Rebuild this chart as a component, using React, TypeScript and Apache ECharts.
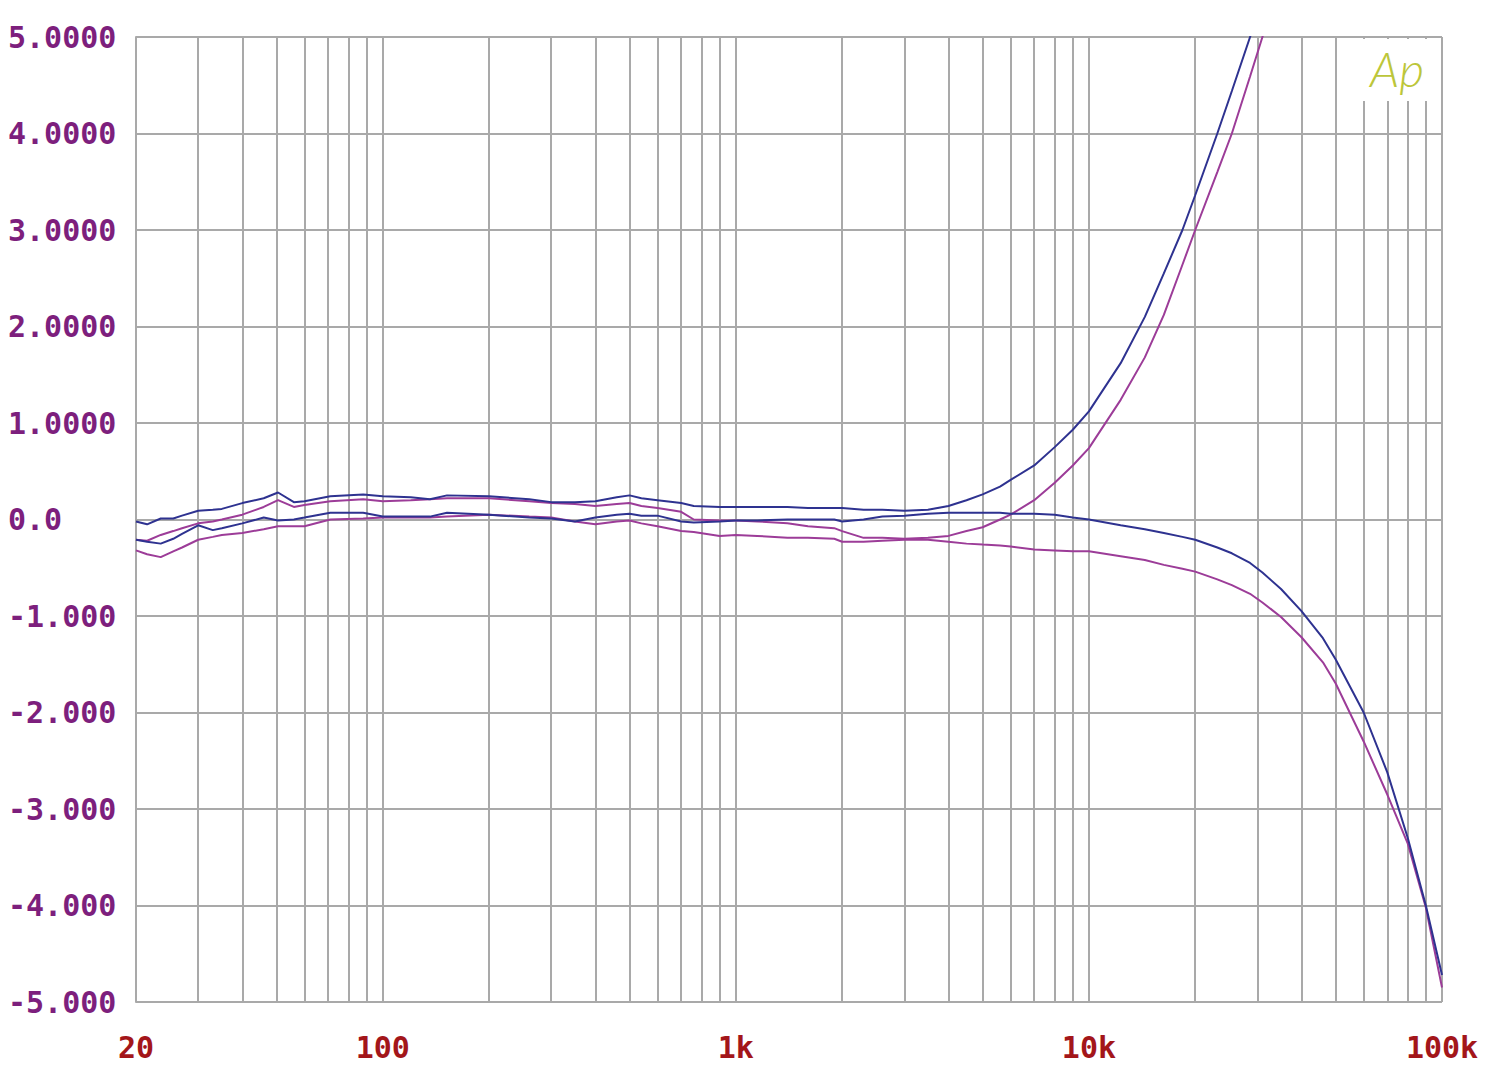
import React, { useEffect, useRef } from "react";
import * as echarts from "echarts";

// Frequencies (Hz) at which the curves were read
const freqs = [20, 21.5, 23.5, 25.5, 27, 30, 33, 35, 40, 46, 50.5, 56, 60, 71, 88, 100, 120, 136, 152, 200, 260, 300, 350, 400, 460, 500, 540, 600, 700, 760, 900, 1000, 1150, 1400, 1600, 1900, 2000, 2300, 2600, 3000, 3500, 4000, 4500, 5000, 5600, 6000, 7000, 8000, 9000, 10000, 12300, 14400, 16300, 18400, 20000, 23100, 25400, 28600, 31000, 35000, 40000, 46000, 50000, 60000, 70000, 80000, 90000, 100000];

// Blue channel, rising (upper) curve
const blueRise = [-0.02, -0.05, 0.01, 0.01, 0.04, 0.09, 0.10, 0.11, 0.17, 0.22, 0.28, 0.18, 0.19, 0.24, 0.26, 0.24, 0.23, 0.21, 0.25, 0.24, 0.21, 0.18, 0.18, 0.19, 0.23, 0.25, 0.22, 0.20, 0.17, 0.14, 0.13, 0.13, 0.13, 0.13, 0.12, 0.12, 0.12, 0.10, 0.10, 0.09, 0.10, 0.14, 0.20, 0.26, 0.34, 0.41, 0.56, 0.75, 0.93, 1.12, 1.62, 2.1, 2.55, 3.0, 3.36, 4.0, 4.44, 5.0, 5.37, null, null, null, null, null, null, null, null, null];

// Purple channel, rising (upper) curve
const purpleRise = [-0.21, -0.22, -0.16, -0.12, -0.09, -0.04, -0.02, 0.0, 0.05, 0.13, 0.20, 0.13, 0.15, 0.19, 0.21, 0.19, 0.20, 0.21, 0.22, 0.22, 0.19, 0.17, 0.16, 0.14, 0.16, 0.17, 0.14, 0.12, 0.08, 0.0, -0.01, -0.01, -0.02, -0.04, -0.07, -0.09, -0.12, -0.19, -0.19, -0.20, -0.19, -0.17, -0.12, -0.08, 0.0, 0.05, 0.2, 0.38, 0.56, 0.74, 1.24, 1.68, 2.12, 2.64, 3.0, 3.6, 4.0, 4.59, 5.0, 5.6, null, null, null, null, null, null, null, null];

// Blue channel, falling (lower) curve
const blueFall = [-0.21, -0.23, -0.25, -0.20, -0.15, -0.06, -0.11, -0.09, -0.04, 0.02, -0.01, 0.0, 0.02, 0.07, 0.07, 0.03, 0.03, 0.03, 0.07, 0.05, 0.02, 0.01, -0.02, 0.02, 0.05, 0.06, 0.04, 0.04, -0.02, -0.03, -0.02, -0.01, -0.01, 0.0, 0.0, 0.0, -0.02, 0.0, 0.03, 0.04, 0.06, 0.07, 0.07, 0.07, 0.07, 0.06, 0.06, 0.05, 0.02, 0.0, -0.06, -0.10, -0.14, -0.18, -0.21, -0.29, -0.35, -0.45, -0.55, -0.72, -0.95, -1.23, -1.45, -2.0, -2.62, -3.3, -4.0, -4.72];

// Purple channel, falling (lower) curve
const purpleFall = [-0.32, -0.36, -0.39, -0.33, -0.29, -0.21, -0.18, -0.16, -0.14, -0.10, -0.07, -0.07, -0.07, 0.0, 0.01, 0.02, 0.02, 0.02, 0.03, 0.05, 0.03, 0.02, -0.02, -0.05, -0.02, -0.01, -0.04, -0.07, -0.12, -0.13, -0.17, -0.16, -0.17, -0.19, -0.19, -0.20, -0.23, -0.23, -0.22, -0.21, -0.21, -0.23, -0.25, -0.26, -0.27, -0.28, -0.31, -0.32, -0.33, -0.33, -0.38, -0.42, -0.47, -0.51, -0.54, -0.62, -0.68, -0.77, -0.86, -1.01, -1.22, -1.48, -1.7, -2.3, -2.85, -3.36, -4.02, -4.85];

// Vertical grid lines (Hz) and labelled frequencies
const gridFreqs = [20, 30, 40, 50, 60, 70, 80, 90, 100, 200, 300, 400, 500, 600, 700, 800, 900, 1000, 2000, 3000, 4000, 5000, 6000, 7000, 8000, 9000, 10000, 20000, 30000, 40000, 50000, 60000, 70000, 80000, 90000, 100000];
const xLabelFreqs = [20, 100, 1000, 10000, 100000];
const xLabelTexts = ["20", "100", "1k", "10k", "100k"];

const yMin = -5;
const yMax = 5;

const BLUE = "#2e3290";
const PURPLE = "#9c3c98";
const GRID = "#a9a9a9";

function toPairs(vals: (number | null)[]) {
  return freqs.map((f, i) => [Math.log10(f), vals[i] === null ? null : vals[i]]);
}

function yLabel(v: number) {
  if (Math.abs(v) < 1e-9) return "0.0";
  if (v > 0) return v.toFixed(4);
  return v.toFixed(3);
}

export default function App() {
  const ref = useRef<HTMLDivElement>(null);
  useEffect(() => {
    if (!ref.current) return;
    const chart = echarts.init(ref.current, null, { renderer: "svg" });
    const mono = "'DejaVu Sans Mono', 'Liberation Mono', monospace";
    const logMin = Math.log10(20);
    chart.setOption({
      animation: false,
      backgroundColor: "#ffffff",
      grid: { left: 136, right: 58, top: 37, bottom: 70, containLabel: false },
      xAxis: {
        type: "value",
        min: logMin,
        max: 5,
        axisLine: { show: true, lineStyle: { color: GRID, width: 2 } },
        axisTick: { show: false, customValues: gridFreqs.map((f) => Math.log10(f)) },
        splitLine: { show: true, lineStyle: { color: GRID, width: 2 } },
        axisLabel: {
          customValues: xLabelFreqs.map((f) => Math.log10(f)),
          formatter: (v: number) => {
            const f = Math.round(Math.pow(10, v));
            const idx = xLabelFreqs.indexOf(f);
            return idx >= 0 ? xLabelTexts[idx] : "";
          },
          color: "#a3161a",
          fontFamily: mono,
          fontWeight: "bold",
          fontSize: 30,
          margin: 30,
          showMinLabel: true,
          showMaxLabel: true,
        },
      },
      yAxis: {
        type: "value",
        min: yMin,
        max: yMax,
        interval: 1,
        axisLine: { show: true, lineStyle: { color: GRID, width: 2 } },
        axisTick: { show: false },
        splitLine: { show: true, lineStyle: { color: GRID, width: 2 } },
        axisLabel: {
          formatter: yLabel,
          align: "left",
          margin: 128,
          color: "#7d1f7d",
          fontFamily: mono,
          fontWeight: "bold",
          fontSize: 30,
        },
      },
      graphic: [
        {
          type: "rect",
          z: 100,
          shape: { x: 1361, y: 39, width: 79, height: 62 },
          style: { fill: "#ffffff" },
        },
        {
          type: "text",
          z: 101,
          x: 1370,
          y: 44,
          style: {
            text: "Ap",
            fill: "#bcc63a",
            font: "italic 300 48px Lato, 'DejaVu Sans', sans-serif",
          },
        },
      ],
      series: [
        { type: "line", data: toPairs(purpleFall), showSymbol: false, clip: true, lineStyle: { color: PURPLE, width: 2 }, itemStyle: { color: PURPLE } },
        { type: "line", data: toPairs(purpleRise), showSymbol: false, clip: true, lineStyle: { color: PURPLE, width: 2 }, itemStyle: { color: PURPLE } },
        { type: "line", data: toPairs(blueFall), showSymbol: false, clip: true, lineStyle: { color: BLUE, width: 2 }, itemStyle: { color: BLUE } },
        { type: "line", data: toPairs(blueRise), showSymbol: false, clip: true, lineStyle: { color: BLUE, width: 2 }, itemStyle: { color: BLUE } },
      ],
    });
    return () => chart.dispose();
  }, []);
  return (
    <div
      ref={ref}
      style={{ position: "fixed", left: 0, top: 0, width: 1500, height: 1072, background: "#fff" }}
    />
  );
}
